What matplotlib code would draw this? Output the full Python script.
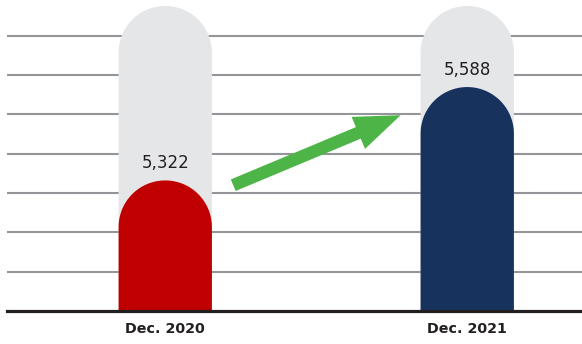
import numpy as np
import matplotlib
matplotlib.use('Agg')
import matplotlib.pyplot as plt
from matplotlib.patches import Polygon, FancyArrowPatch

# данные
categories = ['Dec. 2020', 'Dec. 2021']
values = [5322, 5588]
labels = ['5,322', '5,588']
bar_colors = ['#C00000', '#18325E']
track_top = 5819  # верх серой "колбы"
y_min, y_max = 4950, 5836
grid_step = 112

fig = plt.figure(figsize=(5.82, 3.44), dpi=100)
ax = fig.add_axes([7 / 582, 33 / 344, 575 / 582, 311 / 344])
ax.set_xlim(-0.524, 1.380)
ax.set_ylim(y_min, y_max)

bar_w = 0.309

# масштаб пиксель/единица, чтобы верх был полукругом
px_x = ax.bbox.width / (ax.get_xlim()[1] - ax.get_xlim()[0])
px_y = ax.bbox.height / (ax.get_ylim()[1] - ax.get_ylim()[0])
r_y = (bar_w / 2) * px_x / px_y


def capsule(x, top, color, z):
    # прямоугольник со скруглённым верхом
    t = np.linspace(np.pi, 0, 60)
    cx = x + bar_w / 2 * np.cos(t)
    cy = top - r_y + r_y * np.sin(t)
    pts = [(x - bar_w / 2, y_min)] + list(zip(cx, cy)) + [(x + bar_w / 2, y_min)]
    ax.add_patch(Polygon(pts, closed=True, facecolor=color, edgecolor='none', zorder=z))


for i, v in enumerate(values):
    capsule(i, track_top, '#E5E6E8', 2)
    capsule(i, v, bar_colors[i], 3)
    ax.annotate(labels[i], (i, v), xytext=(0, 9), textcoords='offset points',
                ha='center', va='baseline', fontsize=12, color='#231F20',
                fontfamily='DejaVu Sans', zorder=5)

# сетка
ticks = [y_min + grid_step * k for k in range(1, 8)]
for t in ticks:
    ax.axhline(t, color='#939598', lw=1.5, zorder=1)
ax.axhline(y_min, color='#231F20', lw=2.3, zorder=4, clip_on=False)

# зелёная стрелка
arr = FancyArrowPatch((0.389, 0.401), (0.689, 0.633), transform=ax.transAxes,
                      arrowstyle='simple,head_length=33,head_width=25,tail_width=9',
                      mutation_scale=1, color='#4DB447', lw=0, zorder=6)
ax.add_patch(arr)

ax.set_xticks(range(len(categories)))
ax.set_xticklabels(categories, fontsize=10.3, color='#231F20', fontweight='bold')
ax.tick_params(axis='x', length=0, pad=8)
ax.set_yticks([])
for s in ax.spines.values():
    s.set_visible(False)

plt.savefig('out.png', dpi=100)
